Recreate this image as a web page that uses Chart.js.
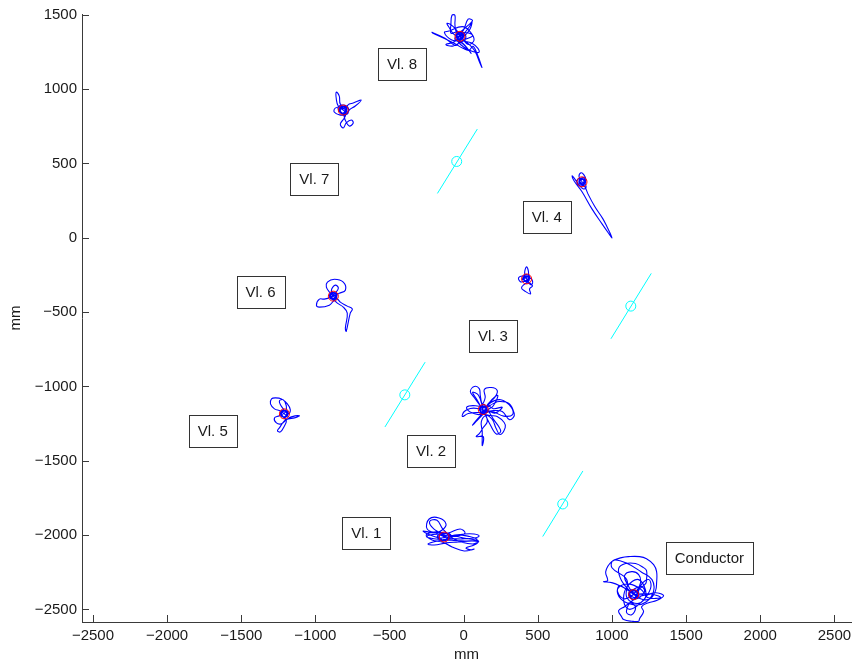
<!DOCTYPE html>
<html>
<head>
<meta charset="utf-8">
<script src="https://cdn.jsdelivr.net/npm/chart.js@4.4.1/dist/chart.umd.min.js"></script>
<style>
html, body { margin: 0; padding: 0; background: #fff; }
#wrap { width: 857px; height: 662px; }
</style>
</head>
<body>
<div id="wrap"><canvas id="chart" width="857" height="662"></canvas></div>
<script>
// --- Data (mm) ---

const xTicks = [-2500, -2000, -1500, -1000, -500, 0, 500, 1000, 1500, 2000, 2500];
const yTicks = [-2500, -2000, -1500, -1000, -500, 0, 500, 1000, 1500];

// rest positions (red circles)
const centerX = [-132, 132, 424, 798, -1209, -879, -812, -25, 1146];
const centerY = [-2013, -1156, -277, 376, -1185, -393, 859, 1355, -2401];

// cyan reference segments: start, marker, end
const refStartX = [-177, 993, -531, 533];
const refStartY = [298, -680, -1273, -2010];
const refEndX = [92, 1265, -260, 804];
const refEndY = [731, -240, -837, -1569];
const refMarkX = [-47, 1127, -397, 668];
const refMarkY = [513, -460, -1057, -1791];

// text boxes
const boxLabels = ['Vl. 1', 'Vl. 2', 'Vl. 3', 'Vl. 4', 'Vl. 5', 'Vl. 6', 'Vl. 7', 'Vl. 8', 'Conductor'];
const boxX = [-657, -220, 197, 560, -1692, -1370, -1007, -416, 1657];
const boxY = [-1988, -1436, -662, 139, -1302, -366, 394, 1168, -2156];

// head trajectories
const track1 = [[-132,-2013],[-172,-1993],[-246,-1959],[-233,-1892],[-166,-1885],[-119,-1926],[-145,-1966],[-193,-1986],[-273,-1973],[-226,-2000],[-159,-2020],[-78,-2006],[3,-1993],[70,-1993],[104,-2006],[70,-2020],[-11,-2026],[-92,-2026],[-172,-2040],[-240,-2060],[-199,-2067],[-119,-2053],[-38,-2047],[56,-2040],[97,-2047],[70,-2067],[16,-2087],[50,-2100],[70,-2094],[3,-2107],[-78,-2080],[-145,-2047],[-213,-2033],[-253,-2000],[-186,-1979],[-105,-1986],[-24,-1959],[9,-1986],[-38,-2006],[-119,-2013],[-152,-2026],[-119,-2033],
    [-96,-2003],[-159,-1988],[-177,-2018],[-123,-2038],[-87,-1998],[-150,-1993],[-168,-2028],[-105,-2033],[-92,-2008],[-141,-1988],[-177,-2008],[-132,-2035],[-100,-1995],[-164,-2001],[-154,-2033],[-114,-2025],
    [-60,-2000],[40,-2010],[90,-2030],[20,-2040],[-80,-2035],[-200,-2025],[-250,-2010],[-180,-1995],[-120,-2005],
    [-200,-1960],[-230,-1910],[-180,-1900],[-140,-1960],[-60,-2030],[60,-2060],[100,-2040],[0,-2020],[-100,-2000],[-132,-2013]];
const track2 = [[132,-1156],[105,-1122],[71,-1075],[45,-1035],[71,-1001],[105,-1015],[112,-1062],[125,-1116],[145,-1075],[139,-1021],[186,-1008],[226,-1028],[213,-1069],[166,-1116],[152,-1143],[199,-1116],[240,-1102],[307,-1116],[341,-1183],[334,-1210],[307,-1223],[260,-1169],[199,-1163],[152,-1169],[92,-1149],[45,-1149],[4,-1169],[-9,-1203],[31,-1183],[98,-1176],[145,-1190],[186,-1196],[226,-1203],[273,-1243],[280,-1277],[246,-1324],[219,-1284],[193,-1223],[152,-1196],[119,-1237],[125,-1304],[125,-1398],[132,-1338],[85,-1338],[105,-1318],[132,-1277],[159,-1237],[145,-1183],[119,-1136],[139,-1122],[152,-1156],[125,-1169],
    [152,-1146],[117,-1131],[107,-1161],[137,-1181],[157,-1141],[122,-1136],[112,-1171],[147,-1176],[154,-1151],[127,-1131],[107,-1151],[132,-1178],[150,-1138],[114,-1144],[120,-1176],[142,-1168],
    [180,-1100],[230,-1060],[200,-1130],[160,-1160],[90,-1230],[60,-1260],[110,-1200],[150,-1160],[210,-1180],[260,-1140],[200,-1150],
    [170,-1120],[250,-1090],[320,-1140],[330,-1190],[270,-1200],[190,-1170],[100,-1190],[40,-1170],[20,-1140],[80,-1130],[150,-1150],[200,-1220],[250,-1300],[220,-1320],[180,-1260],[140,-1180],[90,-1090],[60,-1040],[100,-1060],[132,-1156]];
const track3 = [[424,-277],[411,-237],[424,-196],[437,-230],[431,-264],[397,-257],[370,-270],[384,-297],[417,-290],[444,-270],[464,-290],[458,-317],[431,-304],[404,-317],[390,-338],[411,-358],[451,-378],[444,-344],[464,-324],[437,-297],[417,-270],[397,-284],[411,-250],[444,-257],[437,-284],
    [440,-269],[412,-257],[404,-281],[428,-297],[444,-265],[416,-261],[408,-289],[436,-293],[442,-273],[420,-257],[404,-273],[424,-295],[438,-263],[410,-267],[414,-293],[432,-287],[424,-277]];
const track4 = [[798,376],[778,410],[791,437],[811,423],[825,389],[811,356],[785,349],[764,369],[771,396],[798,396],[818,369],[825,336],[805,329],[778,356],[744,403],[731,416],[744,383],[798,309],[865,194],[933,93],[980,26],[1000,-1],[986,33],[973,60],[939,127],[885,208],[838,295],[818,342],[798,363],[778,389],[811,403],[818,363],
    [814,384],[786,396],[778,372],[802,356],[818,388],[790,392],[782,364],[810,360],[816,380],[794,396],[778,380],[798,358],[812,390],[784,386],[788,360],[806,366],[798,376]];
const track5 = [[-1209,-1185],[-1236,-1165],[-1276,-1151],[-1303,-1118],[-1296,-1084],[-1270,-1077],[-1229,-1084],[-1189,-1118],[-1169,-1158],[-1182,-1185],[-1222,-1145],[-1243,-1098],[-1216,-1091],[-1196,-1131],[-1202,-1172],[-1243,-1198],[-1276,-1212],[-1263,-1246],[-1229,-1252],[-1196,-1225],[-1162,-1205],[-1108,-1198],[-1142,-1212],[-1182,-1219],[-1209,-1232],[-1243,-1279],[-1256,-1299],[-1236,-1306],[-1209,-1266],[-1196,-1232],[-1216,-1205],[-1236,-1178],[-1202,-1165],[-1189,-1192],
    [-1189,-1175],[-1224,-1160],[-1234,-1190],[-1204,-1210],[-1184,-1170],[-1219,-1165],[-1229,-1200],[-1194,-1205],[-1187,-1180],[-1214,-1160],[-1234,-1180],[-1209,-1207],[-1191,-1167],[-1227,-1173],[-1221,-1205],[-1199,-1197],[-1209,-1185]];
const track6 = [[-879,-393],[-899,-373],[-926,-332],[-919,-299],[-872,-279],[-812,-299],[-798,-353],[-839,-373],[-872,-386],[-892,-353],[-866,-319],[-845,-339],[-866,-373],[-899,-400],[-940,-413],[-973,-413],[-993,-454],[-973,-467],[-906,-454],[-872,-420],[-852,-413],[-832,-433],[-785,-460],[-751,-480],[-765,-507],[-792,-629],[-798,-608],[-785,-507],[-812,-467],[-852,-440],[-879,-413],[-899,-386],[-886,-366],[-859,-380],[-872,-406],[-892,-400],
    [-859,-383],[-894,-368],[-904,-398],[-874,-418],[-854,-378],[-889,-373],[-899,-408],[-864,-413],[-857,-388],[-884,-368],[-904,-388],[-879,-415],[-861,-375],[-897,-381],[-891,-413],[-869,-405],[-879,-393]];
const track7 = [[-812,859],[-846,886],[-859,933],[-859,980],[-839,953],[-832,899],[-799,879],[-772,899],[-745,906],[-691,926],[-731,886],[-772,859],[-785,832],[-832,825],[-873,846],[-866,872],[-825,879],[-792,846],[-805,805],[-832,765],[-812,738],[-792,772],[-758,792],[-745,772],[-772,751],[-799,792],[-812,832],[-839,852],[-846,879],[-812,893],[-778,872],[-785,839],[-819,832],[-839,859],[-819,872],[-792,859],
    [-792,869],[-827,884],[-837,854],[-807,834],[-787,874],[-822,879],[-832,844],[-797,839],[-790,864],[-817,884],[-837,864],[-812,837],[-794,877],[-830,871],[-824,839],[-802,847],[-812,859]];
const track8 = [[-25,1355],[-52,1382],[-86,1375],[-86,1436],[-79,1496],[-59,1496],[-59,1436],[-52,1389],[-25,1362],[2,1375],[36,1416],[56,1449],[42,1402],[9,1362],[-18,1342],[-52,1294],[-126,1342],[-213,1382],[-207,1375],[-119,1335],[-52,1301],[-5,1274],[36,1261],[62,1288],[89,1241],[123,1146],[110,1173],[76,1254],[36,1301],[-12,1342],[-65,1368],[-99,1416],[-112,1443],[-72,1422],[-38,1382],[2,1328],[56,1308],[96,1274],[103,1247],[56,1254],[2,1281],[-38,1321],[-45,1362],[-5,1382],[15,1348],[-12,1321],[-38,1348],
    [-5,1365],[-40,1380],[-50,1350],[-20,1330],[0,1370],[-35,1375],[-45,1340],[-10,1335],[-3,1360],[-30,1380],[-50,1360],[-25,1333],[-7,1373],[-43,1367],[-37,1335],[-15,1343],
    [30,1300],[70,1330],[40,1390],[-10,1420],[-100,1390],[-130,1380],[-80,1330],[-20,1320],[50,1240],[0,1300],[-60,1340],
    [20,1420],[60,1460],[30,1470],[0,1400],[-60,1320],[-120,1300],[-70,1290],[0,1330],[60,1360],[10,1380],[-25,1355]];
const trackC = [[1146,-2401],[1112,-2374],[1065,-2347],[998,-2320],[944,-2314],[971,-2307],[958,-2246],[998,-2179],[1065,-2152],[1112,-2145],[1186,-2145],[1233,-2159],[1281,-2199],[1301,-2246],[1301,-2320],[1294,-2374],[1260,-2428],[1213,-2435],[1166,-2414],[1119,-2374],[1065,-2307],[1045,-2226],[1092,-2192],[1159,-2192],[1213,-2219],[1233,-2239],[1233,-2300],[1227,-2327],[1186,-2361],[1146,-2388],[1106,-2334],[1085,-2273],[1133,-2246],[1180,-2266],[1193,-2320],[1166,-2374],[1126,-2414],[1079,-2428],[1038,-2381],[1052,-2340],[1099,-2367],[1173,-2408],[1240,-2401],[1294,-2388],[1348,-2408],[1301,-2441],[1247,-2455],[1200,-2482],[1213,-2515],[1186,-2563],[1180,-2580],[1133,-2580],[1079,-2569],[1065,-2549],[1045,-2509],[1085,-2482],[1126,-2455],[1159,-2488],[1133,-2536],[1099,-2522],[1112,-2468],[1146,-2435],[1186,-2421],[1220,-2381],[1200,-2347],[1153,-2361],[1119,-2394],[1153,-2421],[1173,-2394],
    [1172,-2388],[1127,-2369],[1114,-2408],[1153,-2434],[1179,-2382],[1133,-2375],[1120,-2421],[1166,-2427],[1175,-2395],[1140,-2369],[1114,-2395],[1146,-2430],[1169,-2379],[1123,-2388],[1130,-2430],[1159,-2420],
    [1200,-2330],[1250,-2300],[1260,-2360],[1200,-2450],[1120,-2500],[1080,-2450],[1100,-2350],[1180,-2300],[1230,-2400],[1180,-2460],[1100,-2420],
    [1100,-2300],[1000,-2220],[1010,-2170],[1100,-2190],[1200,-2250],[1270,-2300],[1280,-2380],[1230,-2450],[1150,-2470],[1060,-2430],[1040,-2360],[1120,-2330],[1200,-2370],[1240,-2420],[1330,-2420],[1250,-2395],[1146,-2401]];

const tracks = [track1, track2, track3, track4, track5, track6, track7, track8, trackC];

// --- Styles ---
const FONT = '"Liberation Sans", Arial, Helvetica, sans-serif';
const AXIS_COLOR = '#3a3a3a';
const TICK_LEN = 7;

// --- Datasets ---
const datasets = [];

datasets.push({
    label: 'rest',
    data: centerX.map((x, i) => ({ x: x, y: centerY[i] })),
    showLine: false,
    pointRadius: 5,
    pointBorderWidth: 1,
    pointBorderColor: '#ff0000',
    pointBackgroundColor: 'rgba(0,0,0,0)'
});

datasets.push({
    label: 'refMarks',
    data: refMarkX.map((x, i) => ({ x: x, y: refMarkY[i] })),
    showLine: false,
    pointRadius: 5,
    pointBorderWidth: 1,
    pointBorderColor: '#00ffff',
    pointBackgroundColor: 'rgba(0,0,0,0)'
});

refStartX.forEach((x, i) => {
    datasets.push({
        label: 'ref' + i,
        data: [{ x: x, y: refStartY[i] }, { x: refEndX[i], y: refEndY[i] }],
        showLine: true,
        borderColor: '#00ffff',
        borderWidth: 1,
        pointRadius: 0
    });
});

tracks.forEach((t, i) => {
    datasets.push({
        label: 'track' + i,
        data: t.map(p => ({ x: p[0], y: p[1] })),
        showLine: true,
        borderColor: '#0000ff',
        borderWidth: 1.1,
        pointRadius: 0,
        tension: 0.4
    });
});

// --- Plugins ---

const inwardTicks = {
    id: 'inwardTicks',
    afterDraw(chart) {
        const ctx = chart.ctx;
        const xs = chart.scales.x;
        const ys = chart.scales.y;
        const area = chart.chartArea;
        ctx.save();
        ctx.strokeStyle = AXIS_COLOR;
        ctx.lineWidth = 1;
        ctx.beginPath();
        xTicks.forEach(v => {
            const px = Math.round(xs.getPixelForValue(v)) + 0.5;
            ctx.moveTo(px, area.bottom);
            ctx.lineTo(px, area.bottom - TICK_LEN);
        });
        yTicks.forEach(v => {
            const py = Math.round(ys.getPixelForValue(v)) + 0.5;
            ctx.moveTo(area.left, py);
            ctx.lineTo(area.left + TICK_LEN, py);
        });
        ctx.stroke();
        ctx.restore();
    }
};

const textBoxes = {
    id: 'textBoxes',
    afterDatasetsDraw(chart) {
        const ctx = chart.ctx;
        const xs = chart.scales.x;
        const ys = chart.scales.y;
        ctx.save();
        ctx.font = '15px ' + FONT;
        ctx.textAlign = 'center';
        ctx.textBaseline = 'middle';
        boxLabels.forEach((txt, i) => {
            const cx = xs.getPixelForValue(boxX[i]);
            const cy = ys.getPixelForValue(boxY[i]);
            const w = Math.round(ctx.measureText(txt).width + 18);
            const h = 32;
            const left = Math.round(cx - w / 2) + 0.5;
            const top = Math.round(cy - h / 2) + 0.5;
            ctx.fillStyle = '#ffffff';
            ctx.fillRect(left, top, w, h);
            ctx.strokeStyle = '#333333';
            ctx.lineWidth = 1;
            ctx.strokeRect(left, top, w, h);
            ctx.fillStyle = '#1a1a1a';
            ctx.fillText(txt, cx, cy + 1);
        });
        ctx.restore();
    }
};

// --- Chart ---

const minusLabel = v => String(v).replace('-', '\u2212');

new Chart(document.getElementById('chart').getContext('2d'), {
    type: 'scatter',
    data: { datasets: datasets },
    options: {
        responsive: false,
        animation: false,
        devicePixelRatio: 1,
        layout: { padding: { top: 14, right: 4, left: 0, bottom: 0 } },
        plugins: {
            legend: { display: false },
            tooltip: { enabled: false }
        },
        scales: {
            x: {
                type: 'linear',
                position: 'bottom',
                min: -2574,
                max: 2612,
                afterFit: s => { s.height = 40; },
                afterBuildTicks: s => { s.ticks = xTicks.map(v => ({ value: v })); },
                grid: { display: false, drawTicks: false },
                border: { display: true, color: AXIS_COLOR, width: 1 },
                ticks: {
                    callback: minusLabel,
                    font: { family: FONT, size: 15 },
                    color: '#1a1a1a',
                    padding: 5,
                    maxRotation: 0,
                    autoSkip: false
                },
                title: {
                    display: true,
                    text: 'mm',
                    font: { family: FONT, size: 15, lineHeight: 1 },
                    color: '#1a1a1a',
                    padding: { top: 0, bottom: 0 }
                }
            },
            y: {
                type: 'linear',
                position: 'left',
                min: -2585,
                max: 1505,
                afterFit: s => { s.width = 82; },
                afterBuildTicks: s => { s.ticks = yTicks.map(v => ({ value: v })); },
                grid: { display: false, drawTicks: false },
                border: { display: true, color: AXIS_COLOR, width: 1 },
                ticks: {
                    callback: minusLabel,
                    font: { family: FONT, size: 15 },
                    color: '#1a1a1a',
                    padding: 5,
                    autoSkip: false
                },
                title: {
                    display: true,
                    text: 'mm',
                    font: { family: FONT, size: 15 },
                    color: '#1a1a1a',
                    padding: { top: 7, bottom: 0 }
                }
            }
        }
    },
    plugins: [inwardTicks, textBoxes]
});
</script>
</body>
</html>
